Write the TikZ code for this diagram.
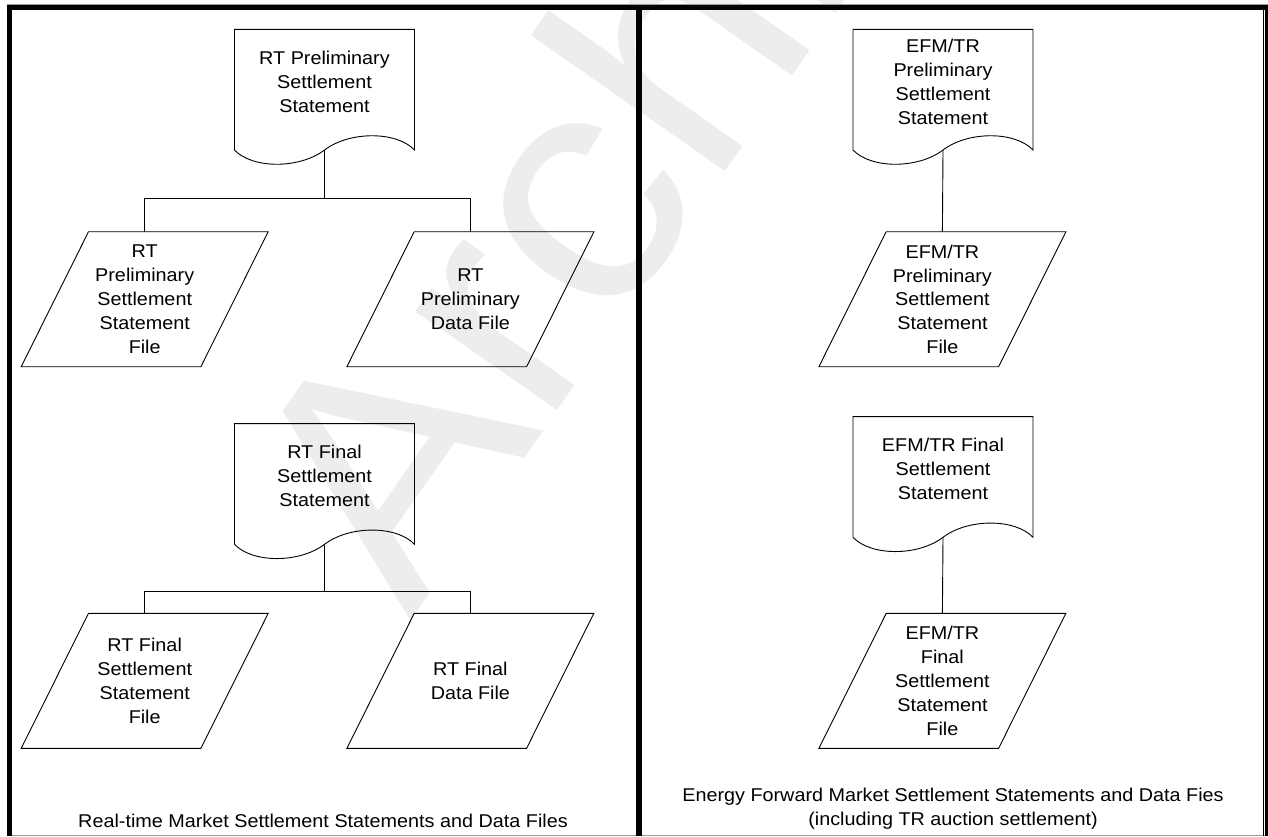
\documentclass[tikz,border=0pt]{standalone}
\usepackage{fontspec}
\setmainfont[FakeStretch=1.07]{Liberation Sans}
\usetikzlibrary{shapes.geometric}
\newcommand{\boxfont}{\fontsize{18.5pt}{23.8pt}\selectfont}
\tikzstyle{docbox} = [align=center, inner sep=0pt, font=\boxfont]
\tikzstyle{filebox} = [rectangle, minimum width=180pt, minimum height=135pt, inner sep=0pt, align=center, font=\boxfont]
\tikzstyle{wire} = [draw, line width=0.9pt]
\tikzstyle{frame} = [draw, line width=5.5pt]
\tikzstyle{caption} = [align=center, inner sep=0pt, font=\boxfont]
\newcommand{\docoutline}[1]{%
  \draw[wire] ([shift={(-90,-52.4)}]#1.center) -- ([shift={(90,-52.4)}]#1.center)
    -- ([shift={(90,68.3)}]#1.center)
    .. controls ([shift={(72,49.3)}]#1.center) and ([shift={(25,49.3)}]#1.center) .. ([shift={(0,68.3)}]#1.center)
    .. controls ([shift={(-25,87.3)}]#1.center) and ([shift={(-72,87.3)}]#1.center) .. ([shift={(-90,68.3)}]#1.center) -- cycle;
  \coordinate (#1-b) at ([shift={(0,68.3)}]#1.center);}
\newcommand{\fileoutline}[1]{%
  \draw[wire] ([shift={(-56.2,-67.5)}]#1.center) -- ([shift={(123.5,-67.5)}]#1.center)
    -- ([shift={(56.2,67.5)}]#1.center) -- ([shift={(-123.5,67.5)}]#1.center) -- cycle;}

\begin{document}
\begin{tikzpicture}[x=1pt, y=-1pt]
        \useasboundingbox (0,0) rectangle (1268,836);
        % Watermark
        \node[rotate=55, anchor=base west, text=black!7, inner sep=0pt, font=\fontsize{327pt}{327pt}\selectfont] (wmark) at (410,622) {Archive};

        % Frame
        \draw[black!40, line width=0.8pt] (7,4.5) -- (1268,4.5);
        \draw[black!40, line width=0.8pt] (7,835) -- (1268,835);
        \draw[frame] (9.5,836) -- (9.5,7.5) -- (1268,7.5);
        \draw[frame] (639,7.5) -- (639,836);
        \draw[frame] (1267.5,7.5) -- (1267.5,836);
        \draw[wire] (1263.8,10) -- (1263.8,836);

        % Nodes
        \node[docbox] (rtprelim) at (324.5,81.7) {RT Preliminary\\Settlement\\Statement};
        \node[filebox] (rtprelimfile) at (144.7,299.2) {RT\\Preliminary\\Settlement\\Statement\\File};
        \node[filebox] (rtprelimdata) at (470.4,299.2) {RT\\Preliminary\\Data File};
        \node[docbox] (rtfinal) at (324.5,476) {RT Final\\Settlement\\Statement};
        \node[filebox] (rtfinalfile) at (144.7,680.8) {RT Final\\Settlement\\Statement\\File};
        \node[filebox] (rtfinaldata) at (470.4,680.8) {RT Final\\Data File};
        \node[docbox] (efmprelim) at (943,81.7) {EFM/TR\\Preliminary\\Settlement\\Statement};
        \node[filebox] (efmprelimfile) at (942.4,299.2) {EFM/TR\\Preliminary\\Settlement\\Statement\\File};
        \node[docbox] (efmfinal) at (943,469) {EFM/TR Final\\Settlement\\Statement};
        \node[filebox] (efmfinalfile) at (942.4,680.8) {EFM/TR\\Final\\Settlement\\Statement\\File};
        \node[caption] (rtcap) at (323,820.7) {Real-time Market Settlement Statements and Data Files};
        \node[caption] (efmcap) at (953,808.7) {Energy Forward Market Settlement Statements and Data Fies\\(including TR auction settlement)};

        \docoutline{rtprelim}
        \docoutline{rtfinal}
        \docoutline{efmprelim}
        \docoutline{efmfinal}
        \fileoutline{rtprelimfile}
        \fileoutline{rtprelimdata}
        \fileoutline{rtfinalfile}
        \fileoutline{rtfinaldata}
        \fileoutline{efmprelimfile}
        \fileoutline{efmfinalfile}
        \coordinate (rtprelimfork) at (324.5,198.3);
        \coordinate (rtfinalfork) at (324.5,591.7);

        % Lines
        \path[wire] (rtprelim-b) -- (rtprelimfork);
        \path[wire] (rtprelimfork) -| (rtprelimfile.north);
        \path[wire] (rtprelimfork) -| (rtprelimdata.north);
        \path[wire] (rtfinal-b) -- (rtfinalfork);
        \path[wire] (rtfinalfork) -| (rtfinalfile.north);
        \path[wire] (rtfinalfork) -| (rtfinaldata.north);
        \path[wire] (efmprelim-b) -- (efmprelimfile.north);
        \path[wire] (efmfinal-b) -- (efmfinalfile.north);
    \end{tikzpicture}
\end{document}
